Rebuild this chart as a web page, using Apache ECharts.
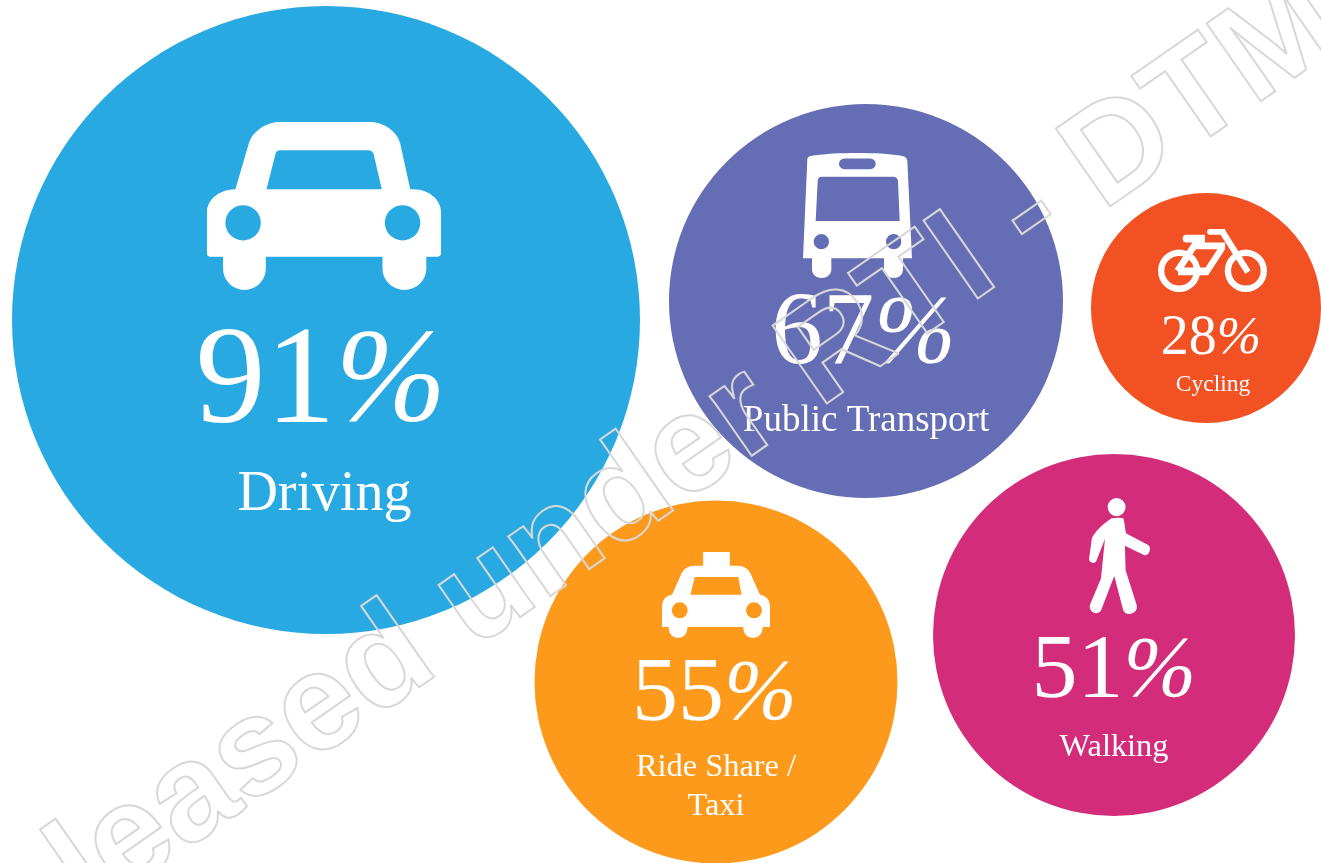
<!DOCTYPE html>
<html><head><meta charset="utf-8">
<style>html,body{margin:0;padding:0;background:#fff}#c{width:1321px;height:863px}</style>
<script src="https://cdn.jsdelivr.net/npm/echarts@6/dist/echarts.min.js"></script></head>
<body><div id="c"></div>
<script>
const names=["Driving","Public Transport","Cycling","Ride Share /\nTaxi","Walking"];
const percents=[91,67,28,55,51];
const centerX=[326,866,1206,716,1114];
const centerY=[320,301,308,682,635];
const diameters=[628,394,230,363,362];
const colors=["#29a9e1","#656eb4","#f15123","#fd9a1c","#d22c7b"];
const pctSize=[140,103,56,92,92];
const pctOffset=[[-5,65],[-2.5,35],[5,31],[-1.5,14],[0,38]];
const nameSize=[56,37,23.5,32.4,32.4];
const nameOffset=[[-1.5,175],[0,120],[7,77],[0,105],[0,112]];
const iconW=[234,109,109,108,61];
const iconH=[168,125,63,86,116];
const iconOffset=[[-2,-114],[-8.5,-85.5],[6.5,-47.5],[0,-87],[5.5,-79]];

const carPath="M218 0H488C530 0 570 30 578 65L608 202H618C665 202 700 235 700 270V395C700 401 695 405 688 405H656V440A65.5 65 0 0 1 525 440V405H176V440A64 65 0 0 1 48 440V405H10C4 405 0 401 0 395V270C0 235 35 202 85 202L125 65C135 30 175 0 218 0ZM218 85C212 85 208 88 206 92L178 202H523L498 95C495 90 490 85 483 85ZM108 250A53 53 0 1 0 108 356A53 53 0 1 0 108 250ZM585 250A53 53 0 1 0 585 356A53 53 0 1 0 585 250Z";
const busPath="M13 20C13 12 20 10 30 8C100 -2 230 -2 290 8C305 10 312 14 313 25L327 317H300V350C300 385 245 385 243 350V317H85V350C85 385 27 385 27 350V317H0ZM55 72C48 72 45 78 44 85L38 205H290L285 85C284 78 280 72 270 72ZM124 17A16 16 0 0 0 124 49H202A16 16 0 0 0 202 17ZM55 244A23 23 0 1 0 55 290A23 23 0 1 0 55 244ZM272 244A23 23 0 1 0 272 290A23 23 0 1 0 272 244Z";
const bikePath="M63 61A63 63 0 1 1 63 187A63 63 0 1 1 63 61ZM63 80A44 44 0 1 0 63 168A44 44 0 1 0 63 80ZM262 61A63 63 0 1 1 262 187A63 63 0 1 1 262 61ZM262 80A44 44 0 1 0 262 168A44 44 0 1 0 262 80ZM155 0H200L205 17H155A8.5 8.5 0 0 1 155 0ZM198 0L276 123L260 133L182 10ZM85 17H140V40H85A11.5 11.5 0 0 1 85 17ZM110 40H200V60H110ZM126 41L66 131L50 119L110 29ZM60 114H150V137H60ZM200 60L151 135L135 125L184 50Z";
const taxiPath="M123 0H203V41H225C245 41 258 50 265 65L293 128C312 130 323 145 323 163V225H301V229A29 29 0 0 1 243 229V225H76V229A28 29 0 0 1 20 229V225H0V163C0 145 11 130 30 128L58 65C65 50 78 41 98 41H123ZM98 75L85 128H238L228 75ZM53 151A24 24 0 1 0 53 199A24 24 0 1 0 53 151ZM275 151A24 24 0 1 0 275 199A24 24 0 1 0 275 151Z";
const walkPath="M83 0A27 27 0 1 1 83 54A27 27 0 1 1 83 0ZM68 60C80 58 95 58 103 60C108 75 108 95 112 106L178 140C190 148 180 176 165 170L108 142L110 215L143 318C150 345 112 355 103 335L76 232L36 335C25 352 -3 340 3 318L36 240L48 122L23 185C20 198 0 195 0 182L8 125C10 105 50 70 68 60Z";
const iconPaths=[carPath,busPath,bikePath,taxiPath,walkPath];

const wmText="Released under RTI - DTM";
const labelFont="'Liberation Serif','Times New Roman',serif";
const toPoint=i=>[centerX[i],centerY[i]];

const chart=echarts.init(document.getElementById('c'),null,{renderer:'canvas'});
chart.setOption({
  animation:false,
  backgroundColor:'#fff',
  grid:{left:0,right:0,top:0,bottom:0},
  xAxis:{type:'value',min:0,max:1321,show:false},
  yAxis:{type:'value',min:0,max:863,inverse:true,show:false},
  series:[
    {type:'scatter',silent:true,z:1,
     data:names.map((n,i)=>({value:toPoint(i),symbolSize:diameters[i],itemStyle:{color:colors[i],opacity:1}}))},
    {type:'scatter',silent:true,z:2,
     data:names.map((n,i)=>({value:toPoint(i),symbol:'path://'+iconPaths[i],symbolSize:[iconW[i],iconH[i]],
       symbolOffset:iconOffset[i],symbolKeepAspect:false,itemStyle:{color:'#fff',opacity:1}}))},
    {type:'scatter',silent:true,z:3,symbolSize:1,
     data:names.map((n,i)=>({value:toPoint(i),itemStyle:{color:'rgba(0,0,0,0)',opacity:1},
       label:{show:true,position:'inside',formatter:'{d|'+percents[i]+'}{p|%}',offset:pctOffset[i],
         rich:{d:{color:'#fff',fontFamily:labelFont,fontSize:pctSize[i]},
               p:{color:'#fff',fontFamily:labelFont,fontStyle:'italic',fontSize:pctSize[i]*0.95}}}}))},
    {type:'scatter',silent:true,z:3,symbolSize:1,
     data:names.map((n,i)=>({value:toPoint(i),itemStyle:{color:'rgba(0,0,0,0)',opacity:1},
       label:{show:true,position:'inside',formatter:n,color:'#fff',fontFamily:labelFont,fontSize:nameSize[i],lineHeight:nameSize[i]*1.21,align:'center',offset:nameOffset[i]}}))}
  ],
  graphic:[{type:'text',silent:true,z:10,x:-77.3,y:986.7,rotation:34.85*Math.PI/180,
    style:{text:wmText,fontFamily:"'Liberation Sans',Arial,sans-serif",fontWeight:'bold',fontSize:138,fill:'rgba(255,255,255,0)',stroke:'#d8d8d8',lineWidth:2,textAlign:'left',textVerticalAlign:'middle'}}]
});
</script></body></html>
